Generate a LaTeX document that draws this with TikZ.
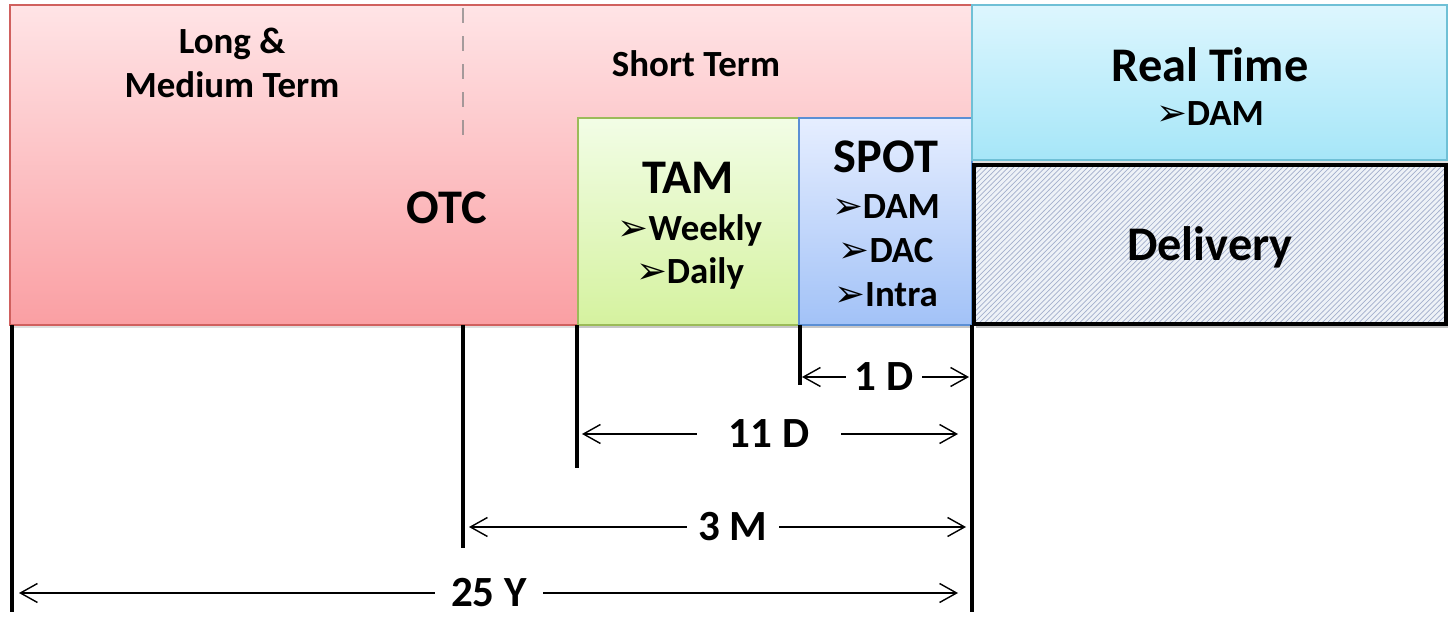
\documentclass[tikz,border=0pt]{standalone}
\usepackage{fontspec}
\setmainfont{Carlito}
\newfontfamily\symfont{DejaVu Sans}
\usetikzlibrary{arrows.meta,patterns,shadows}

\definecolor{otctop}{HTML}{FFE4E6}
\definecolor{otcbot}{HTML}{FA9FA3}
\definecolor{otcline}{HTML}{D0605E}
\definecolor{tamtop}{HTML}{F2FDE6}
\definecolor{tambot}{HTML}{D5F29F}
\definecolor{tamline}{HTML}{9BBB59}
\definecolor{spottop}{HTML}{E6EEFF}
\definecolor{spotbot}{HTML}{A2C2F7}
\definecolor{spotline}{HTML}{5B8FD5}
\definecolor{rttop}{HTML}{DDF6FE}
\definecolor{rtbot}{HTML}{A6E6F8}
\definecolor{rtline}{HTML}{6FC0D6}
\definecolor{delfill}{HTML}{EEF2F7}
\definecolor{delhatch}{HTML}{A3AFCC}

\newcommand\arrowbul{{\symfont\fontsize{21}{21}\selectfont\char"27A2}}

\begin{document}
\begin{tikzpicture}[x=0.02cm,y=-0.02cm,
    box/.style={line width=0.8pt,drop shadow={opacity=0.25,shadow xshift=0.5pt,shadow yshift=-1.5pt}},
    titletext/.style={font=\fontsize{27.5}{31}\selectfont\bfseries},
    itemtext/.style={font=\fontsize{21}{25}\selectfont\bfseries,align=center},
    dimtext/.style={font=\fontsize{24.5}{28}\selectfont\bfseries},
    tick/.style={line width=2.3pt,black},
    span/.style={line width=0.8pt,-{Straight Barb[length=3.4mm,width=3.8mm]}}]
  \useasboundingbox (0,0) rectangle (1451,617);
  % boites des marches
  \draw[box,top color=otctop,bottom color=otcbot,draw=otcline] (10,5) rectangle (972,325);
  \draw[gray,opacity=0.7,line width=1.7pt,dash pattern=on 8.5pt off 7.5pt] (463,8) -- (463,135);
  \draw[box,top color=tamtop,bottom color=tambot,draw=tamline] (578,118) rectangle (799,325);
  \draw[box,top color=spottop,bottom color=spotbot,draw=spotline] (799,118) rectangle (972,325);
  \draw[box,top color=rttop,bottom color=rtbot,draw=rtline] (972,5) rectangle (1447,160);
  % livraison
  \fill[delfill,drop shadow={opacity=0.5,shadow xshift=1pt,shadow yshift=-2pt}] (974,165) rectangle (1446,324);
  \fill[pattern=north east lines,pattern color=delhatch] (974,165) rectangle (1446,324);
  \draw[line width=2.4pt] (974,165) rectangle (1446,324);
  % textes
  \node[itemtext] (longmed) at (232,63) {Long \&\\Medium Term};
  \node[itemtext] (shortterm) at (696,64) {Short Term};
  \node[titletext] (otc) at (447,208) {OTC};
  \node[titletext] (tam) at (688,178) {TAM};
  \node[itemtext] (tamlist) at (690,252) {\arrowbul Weekly\\\arrowbul Daily};
  \node[titletext] (spot) at (886,157) {SPOT};
  \node[itemtext] (spotlist) at (886,251) {\arrowbul DAM\\\arrowbul DAC\\\arrowbul Intra};
  \node[titletext] (realtime) at (1210,65) {Real Time};
  \node[itemtext] (rtlist) at (1210,114) {\arrowbul DAM};
  \node[titletext] (delivery) at (1210,247) {Delivery};
  % reperes verticaux
  \coordinate (t25) at (12,325);  \coordinate (b25) at (12,612);
  \coordinate (t3)  at (463,325); \coordinate (b3)  at (463,548);
  \coordinate (t11) at (577,325); \coordinate (b11) at (577,468);
  \coordinate (t1)  at (800,325); \coordinate (b1)  at (800,385);
  \coordinate (tn)  at (972,325); \coordinate (bn)  at (972,612);
  \foreach \p in {25,3,11,1,n}
    \draw[tick] (t\p) -- (b\p);
  % durees
  \node[dimtext,inner xsep=5pt] (d1) at (884,377) {1 D};
  \node[dimtext,inner xsep=18pt] (d11) at (769,434) {11 D};
  \node[dimtext,inner xsep=6.5pt] (d3) at (733,527) {3 M};
  \node[dimtext,inner xsep=9pt] (d25) at (489,593) {25 Y};
  \coordinate (l1) at (802,377);  \coordinate (r1) at (969,377);
  \coordinate (l11) at (582,434); \coordinate (r11) at (958,434);
  \coordinate (l3) at (469,527);  \coordinate (r3) at (966,527);
  \coordinate (l25) at (19,593);  \coordinate (r25) at (958,593);
  \foreach \d in {1,11,3,25} {
    \draw[span] (d\d.west) -- (l\d);
    \draw[span] (d\d.east) -- (r\d);
  }
\end{tikzpicture}
\end{document}
